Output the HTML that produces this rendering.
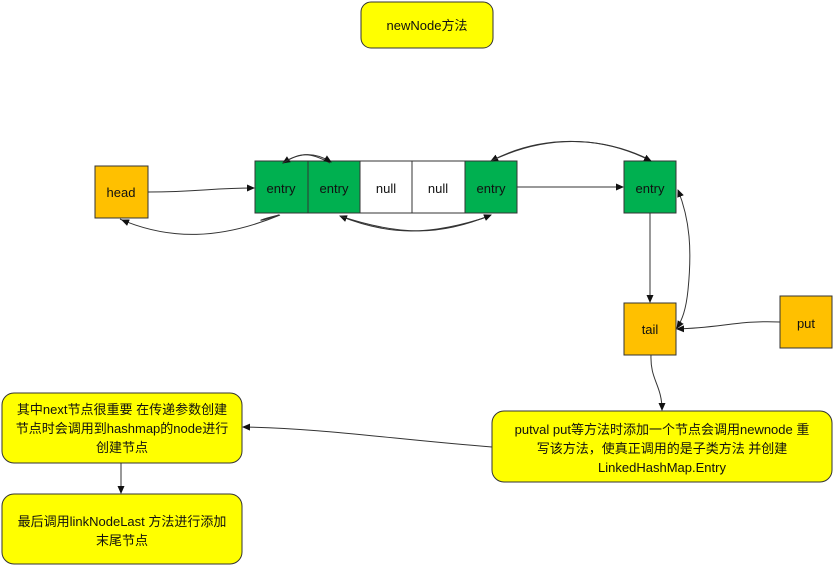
<!DOCTYPE html>
<html><head><meta charset="utf-8"><style>
html,body{margin:0;padding:0;background:#fff;width:833px;height:566px;overflow:hidden}
text{font-family:"Liberation Sans","Noto Sans CJK SC",sans-serif;font-size:13px;fill:#111}
</style></head><body>
<svg width="833" height="566" xmlns="http://www.w3.org/2000/svg">
<defs><marker id="a" markerWidth="8" markerHeight="8" refX="7" refY="4" orient="auto" markerUnits="userSpaceOnUse"><path d="M0,0.5 L8,4 L0,7.5 Z" fill="#111"/></marker></defs>
<g stroke="#333" stroke-width="1">
<rect x="361" y="2" width="132" height="46" rx="10" fill="#ffff00"/>
<rect x="95" y="166" width="53" height="52" fill="#ffc000"/>
<rect x="255" y="161" width="53" height="52" fill="#00b050"/>
<rect x="308" y="161" width="52" height="52" fill="#00b050"/>
<rect x="360" y="161" width="52" height="52" fill="#fff"/>
<rect x="412" y="161" width="53" height="52" fill="#fff"/>
<rect x="465" y="161" width="52" height="52" fill="#00b050"/>
<rect x="624" y="161" width="52" height="52" fill="#00b050"/>
<rect x="624" y="303" width="52" height="52" fill="#ffc000"/>
<rect x="780" y="296" width="52" height="52" fill="#ffc000"/>
<rect x="492" y="411" width="340" height="71" rx="12" fill="#ffff00"/>
<rect x="2" y="393" width="240" height="70" rx="12" fill="#ffff00"/>
<rect x="2" y="494" width="240" height="70" rx="12" fill="#ffff00"/>
</g>
<g fill="none" stroke="#333" stroke-width="1">
<path d="M148,192 C200,192 210,188 254,188" marker-end="url(#a)"/>
<path d="M280,215 C220,240 170,240 122,220" marker-end="url(#a)"/>
<path d="M122,220 L120,219" />
<path d="M330,163 C310,152 300,152 283,163" marker-end="url(#a)"/>
<path d="M283,163 C300,152 315,152 331,162" marker-end="url(#a)"/>
<path d="M490,216 C430,236 390,236 340,216" marker-end="url(#a)"/>
<path d="M340,216 C400,236 440,236 491,215" marker-end="url(#a)"/>
<path d="M279,215 C260,222 250,222 279,215" />
<path d="M517,187 L623,187" marker-end="url(#a)"/>
<path d="M650,160 C600,135 540,135 491,161" marker-end="url(#a)"/>
<path d="M491,161 C545,135 600,135 651,161" marker-end="url(#a)"/>
<path d="M650,213 L650,302" marker-end="url(#a)"/>
<path d="M688,290 C692,250 690,220 678,190" marker-end="url(#a)"/>
<path d="M688,290 C686,310 682,320 677,328" marker-end="url(#a)"/>
<path d="M780,322 C740,320 720,328 677,329" marker-end="url(#a)"/>
<path d="M651,355 C650,380 662,385 662,410" marker-end="url(#a)"/>
<path d="M492,447 C400,440 320,428 243,427" marker-end="url(#a)"/>
<path d="M121,463 L121,493" marker-end="url(#a)"/>
</g>
<g text-anchor="middle">
<text x="427" y="30">newNode方法</text>
<text x="121" y="197">head</text>
<text x="281" y="193">entry</text>
<text x="334" y="193">entry</text>
<text x="386" y="193">null</text>
<text x="438" y="193">null</text>
<text x="491" y="193">entry</text>
<text x="650" y="193">entry</text>
<text x="650" y="334">tail</text>
<text x="806" y="328">put</text>
<text x="662" y="434">putval  put等方法时添加一个节点会调用newnode  重</text>
<text x="662" y="453">写该方法，使真正调用的是子类方法 并创建</text>
<text x="662" y="472">LinkedHashMap.Entry</text>
<text x="122" y="414">其中next节点很重要 在传递参数创建</text>
<text x="122" y="433">节点时会调用到hashmap的node进行</text>
<text x="122" y="452">创建节点</text>
<text x="122" y="526">最后调用linkNodeLast 方法进行添加</text>
<text x="122" y="545">末尾节点</text>
</g>
</svg>
</body></html>
